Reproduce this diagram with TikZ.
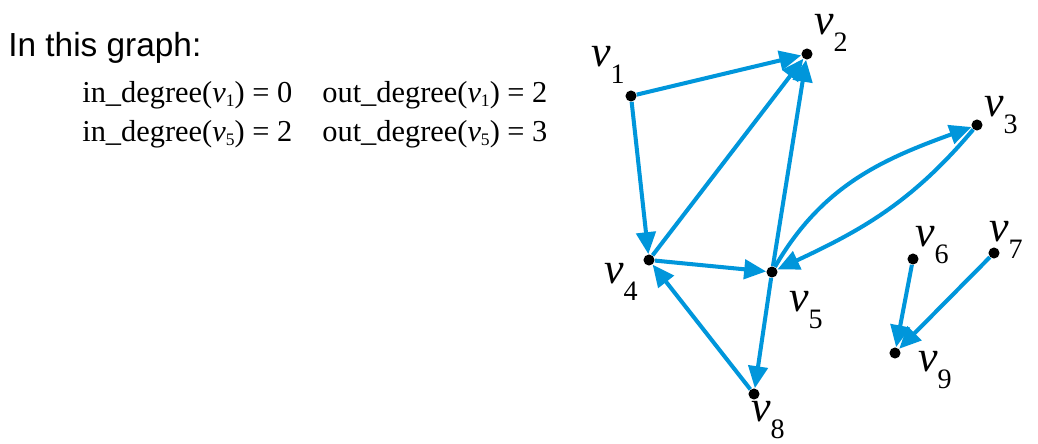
\documentclass[tikz,border=0pt]{standalone}
\usepackage{fontspec}
\setmainfont{Liberation Serif}
\newfontfamily\headfont{Liberation Sans}
\usetikzlibrary{arrows.meta}
\definecolor{edgeblue}{RGB}{0,150,219}
% vertex name with a big, low subscript
\newcommand{\vname}[1]{\textit{v}\raisebox{-9.5pt}{\fontsize{16}{16}\selectfont #1}}
% vertex name inside the degree lines
\newcommand{\vsub}[1]{\textit{v}\raisebox{-2.5pt}{\fontsize{10}{10}\selectfont #1}}
\begin{document}
\begin{tikzpicture}[x=0.02cm, y=-0.02cm,
  vertex/.style={circle, fill=black, inner sep=0pt, minimum size=6.3pt},
  vlabel/.style={inner sep=0pt, font=\fontsize{25}{25}\selectfont},
  edge/.style={edgeblue, line width=2.3pt, -{Triangle[length=12.5pt, width=11pt]}},
  deg/.style={anchor=base west, inner sep=0pt, font=\fontsize{17.3}{17.3}\selectfont}]
  \useasboundingbox (0,0) rectangle (1038,443);
  % Text
  \node[anchor=base west, inner sep=0pt, font=\headfont\fontsize{19}{19}\selectfont] (title) at (8,56) {In this graph:};
  \node[deg] (in1) at (82,102) {in\_degree(\vsub{1}) = 0};
  \node[deg] (out1) at (322,102) {out\_degree(\vsub{1}) = 2};
  \node[deg] (in5) at (82,141) {in\_degree(\vsub{5}) = 2};
  \node[deg] (out5) at (322,141) {out\_degree(\vsub{5}) = 3};
  % Vertices
  \node[vertex] (v1) at (631,96) {};
  \node[vertex] (v2) at (807,54) {};
  \node[vertex] (v3) at (977,125) {};
  \node[vertex] (v4) at (649,260) {};
  \node[vertex] (v5) at (772,272) {};
  \node[vertex] (v6) at (913,259) {};
  \node[vertex] (v7) at (994,253) {};
  \node[vertex] (v8) at (754,394) {};
  \node[vertex] (v9) at (895,353) {};
  % Labels
  \node[vlabel] (l1) at (608,65) {\vname{1}};
  \node[vlabel] (l2) at (831,33) {\vname{2}};
  \node[vlabel] (l3) at (1001,115) {\vname{3}};
  \node[vlabel] (l4) at (621,282) {\vname{4}};
  \node[vlabel] (l5) at (806,310) {\vname{5}};
  \node[vlabel] (l6) at (932,245) {\vname{6}};
  \node[vlabel] (l7) at (1006,240) {\vname{7}};
  \node[vlabel] (l8) at (768,420) {\vname{8}};
  \node[vlabel] (l9) at (935,370) {\vname{9}};
  % Edges
  \draw[edge] (v1) -- (v2);
  \draw[edge] (v1) -- (v4);
  \draw[edge] (v4) -- (v2);
  \draw[edge] (v5) -- (v2);
  \draw[edge] (v4) -- (v5);
  \draw[edge] (v5) to[out=60, in=200] (v3);
  \draw[edge] (v3) to[out=230, in=25] (v5);
  \draw[edge] (v5) -- (v8);
  \draw[edge] (v8) -- (v4);
  \draw[edge] (v6) -- (v9);
  \draw[edge] (v7) -- (v9);
\end{tikzpicture}
\end{document}
